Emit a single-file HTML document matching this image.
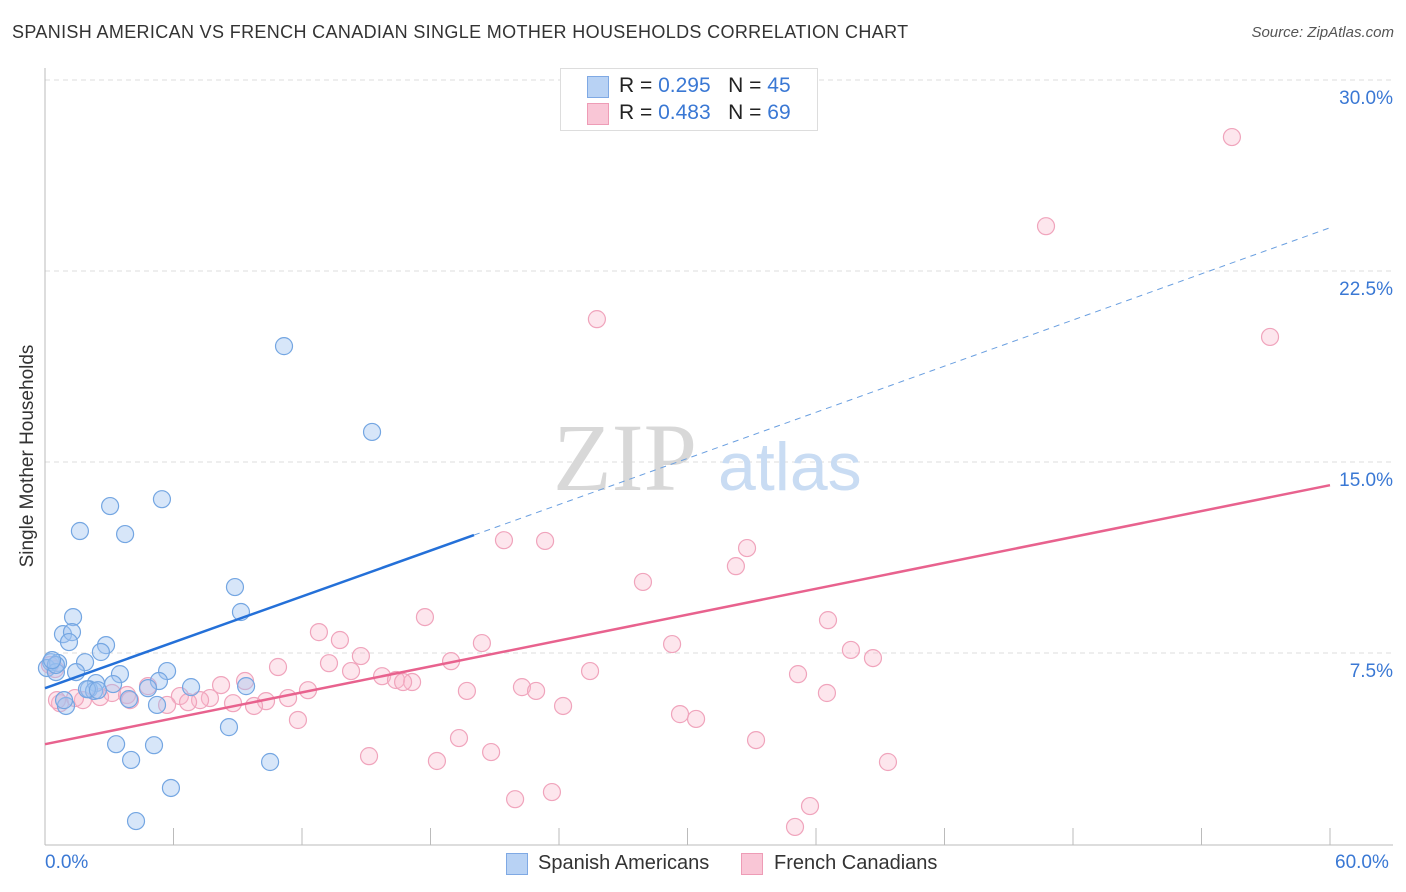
<!DOCTYPE html>
<html><head><meta charset="utf-8">
<style>
body{margin:0;background:#fff;font-family:"Liberation Sans",sans-serif;}
#wrap{position:relative;width:1406px;height:892px;overflow:hidden;}
.t{position:absolute;white-space:nowrap;}
</style></head>
<body>
<div id="wrap">
<div class="t" style="left:12px;top:22px;font-size:18px;letter-spacing:0.35px;color:#333;">SPANISH AMERICAN VS FRENCH CANADIAN SINGLE MOTHER HOUSEHOLDS CORRELATION CHART</div>
<div class="t" style="right:12px;top:24px;font-size:15px;color:#555;font-style:italic;">Source: ZipAtlas.com</div>
<svg id="svg" width="1406" height="892" style="position:absolute;left:0;top:0"></svg>
</div>
<script>
const blueX=[11.16,15.27,3.04,5.46,1.63,3.74,8.87,9.15,1.31,0.84,1.26,1.12,2.85,2.61,0.28,0.09,0.61,1.87,1.45,0.51,3.50,5.70,5.32,4.81,2.38,2.05,2.29,3.18,6.82,9.39,3.92,5.23,0.98,3.32,5.09,8.59,4.02,10.51,5.88,4.25,0.89,1.96,0.51,0.33,2.47];
const blueY=[19.55,16.18,13.27,13.54,12.29,12.17,10.09,9.11,8.91,8.24,8.32,7.93,7.81,7.54,7.14,6.91,7.11,7.14,6.75,6.75,6.67,6.79,6.40,6.12,6.32,6.08,6.01,6.28,6.16,6.20,5.69,5.46,5.42,3.92,3.88,4.59,3.30,3.22,2.20,0.90,5.65,6.08,7.03,7.22,6.04];
const pinkX=[55.42,46.74,25.77,57.20,21.43,23.35,32.78,32.26,27.92,17.74,36.56,12.79,13.77,20.40,29.28,37.63,38.66,14.75,13.26,18.96,10.88,14.29,25.45,35.16,9.34,15.74,16.39,17.14,16.72,8.22,4.81,12.28,22.27,22.93,19.70,36.51,6.30,7.70,11.35,3.13,2.57,3.83,1.77,7.24,10.32,8.78,6.68,9.76,5.70,0.70,0.56,24.19,29.65,30.40,11.81,19.33,33.20,20.83,15.13,18.30,39.36,21.95,23.67,35.72,35.02,0.47,3.97,0.23,1.40];
const pinkY=[27.76,24.26,20.61,19.91,11.93,11.90,11.62,10.91,10.29,8.91,8.79,8.32,8.01,7.89,7.85,7.62,7.30,7.38,7.10,7.18,6.95,6.79,6.79,6.67,6.40,6.59,6.44,6.36,6.36,6.24,6.20,6.04,6.16,6.01,6.01,5.93,5.81,5.73,5.73,5.93,5.77,5.85,5.65,5.65,5.61,5.53,5.57,5.42,5.46,5.53,5.65,5.42,5.10,4.91,4.87,4.16,4.08,3.61,3.45,3.26,3.22,1.76,2.04,1.49,0.67,6.87,5.65,7.03,5.73];
const blueTrend=[6.12,12.13,24.2];
const pinkTrend=[3.92,14.09];
const yTicks=[7.5,15.0,22.5,30.0];
const X0=45,X1=1330,Y0=844;
const sx=v=>X0+v/60*(X1-X0);
const sy=v=>Y0-v/7.5*191;
const svg=document.getElementById('svg');
const NS='http://www.w3.org/2000/svg';
function mk(tag,at){const e=document.createElementNS(NS,tag);for(const k in at)e.setAttribute(k,at[k]);svg.appendChild(e);return e;}
yTicks.forEach(v=>{
 const g=mk('line',{x1:45,x2:1393,y1:sy(v),y2:sy(v),stroke:'#ddd','stroke-dasharray':'5,4'});
 
 
 const t=mk('text',{x:1393,y:sy(v)+24,'text-anchor':'end','font-size':19,fill:'#3a78d4','font-family':'Liberation Sans, sans-serif'});
 t.textContent=v.toFixed(1)+'%';
 
 
});
let a=mk('line',{x1:45,x2:45,y1:68,y2:845,stroke:'#bbb'});


a=mk('line',{x1:45,x2:1393,y1:845,y2:845,stroke:'#bbb'});


for(let i=1;i<=10;i++){const x=45+i*128.5;const tk=mk('line',{x1:x,x2:x,y1:828,y2:845,stroke:'#bbb'});
 
 }
let w=mk('text',{x:553,y:490,'font-size':96,fill:'#d8d8d8','font-family':'Liberation Serif, serif'});w.textContent='ZIP';


w=mk('text',{x:718,y:490,'font-size':68,fill:'#c9dcf3','font-family':'Liberation Sans, sans-serif'});w.textContent='atlas';


pinkX.forEach((v,i)=>{const c=mk('circle',{cx:sx(v),cy:sy(pinkY[i]),r:8.5,fill:'rgba(248,182,202,0.35)',stroke:'#f0a4bc','stroke-width':1.2});
 
 });
blueX.forEach((v,i)=>{const c=mk('circle',{cx:sx(v),cy:sy(blueY[i]),r:8.5,fill:'rgba(160,196,240,0.42)',stroke:'#74a6e2','stroke-width':1.2});
 
 });
let l=mk('line',{x1:sx(0),y1:sy(blueTrend[0]),x2:sx(20.03),y2:sy(blueTrend[1]),stroke:'#2470d8','stroke-width':2.5});


l=mk('line',{x1:sx(20.03),y1:sy(blueTrend[1]),x2:sx(60),y2:sy(blueTrend[2]),stroke:'#6a9fe0','stroke-width':1,'stroke-dasharray':'6,5'});


l=mk('line',{x1:sx(0),y1:sy(pinkTrend[0]),x2:sx(60),y2:sy(pinkTrend[1]),stroke:'#e8628e','stroke-width':2.5});


</script>
<div class="t" style="left:28px;top:456px;width:0;height:0;"><div style="position:absolute;left:0;top:0;transform:translate(-50%,-50%) rotate(-90deg);font-size:19px;color:#333;white-space:nowrap;">Single Mother Households</div></div>
<div class="t" style="left:45px;top:852px;font-size:19px;color:#3a78d4;">0.0%</div>
<div class="t" style="left:1335px;top:852px;font-size:19px;color:#3a78d4;">60.0%</div>
<div class="t" style="left:560px;top:68px;width:256px;height:61px;border:1px solid #ddd;background:#fff;">
 <div style="position:absolute;left:26px;top:7px;width:20px;height:20px;background:#b8d2f4;border:1px solid #7fa9e4;"></div>
 <div style="position:absolute;left:58px;top:5px;font-size:21px;color:#222;">R = <span style="color:#3a78d4">0.295</span>&nbsp;&nbsp;&nbsp;N = <span style="color:#3a78d4">45</span></div>
 <div style="position:absolute;left:26px;top:34px;width:20px;height:20px;background:#f9c6d6;border:1px solid #ee9cb6;"></div>
 <div style="position:absolute;left:58px;top:32px;font-size:21px;color:#222;">R = <span style="color:#3a78d4">0.483</span>&nbsp;&nbsp;&nbsp;N = <span style="color:#3a78d4">69</span></div>
</div>
<div class="t" style="left:506px;top:853px;width:20px;height:20px;background:#b8d2f4;border:1px solid #7fa9e4;"></div>
<div class="t" style="left:538px;top:852px;font-size:20px;color:#333;">Spanish Americans</div>
<div class="t" style="left:741px;top:853px;width:20px;height:20px;background:#f9c6d6;border:1px solid #ee9cb6;"></div>
<div class="t" style="left:774px;top:852px;font-size:20px;color:#333;">French Canadians</div>
</body></html>
